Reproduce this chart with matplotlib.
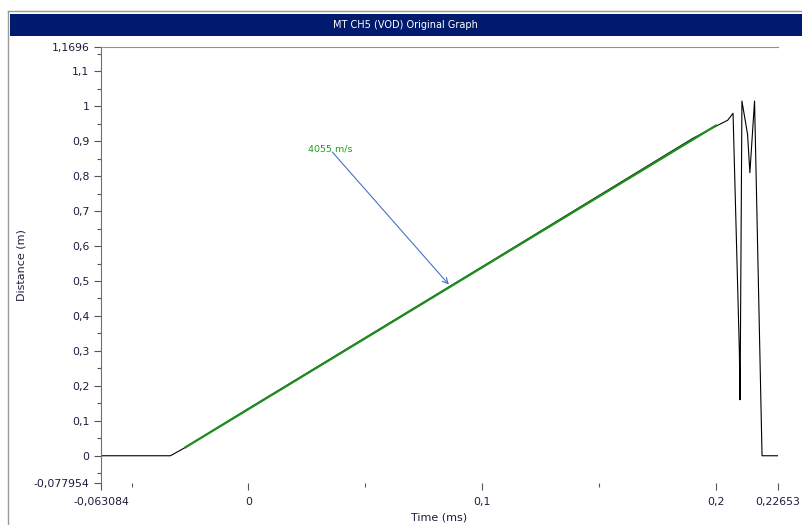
import matplotlib.pyplot as plt
from matplotlib.ticker import FixedLocator, NullFormatter
from matplotlib.patches import Rectangle
from matplotlib.lines import Line2D

# Signal (time in ms, distance in m)
time_ms = [-0.063084, -0.0334, -0.028, 0.0, 0.05, 0.1, 0.15, 0.19, 0.2, 0.205,
           0.2073, 0.2100, 0.2103, 0.2111, 0.2135, 0.2145, 0.2165, 0.2197, 0.22653]
dist_m = [0.0, 0.0, 0.02, 0.135, 0.338, 0.541, 0.745, 0.908, 0.943, 0.960,
          0.980, 0.30, 0.16, 1.015, 0.92, 0.81, 1.015, 0.0, 0.0]

# Linear fit (VOD)
fit_t = [-0.027, 0.2]
fit_d = [0.024, 0.945]
vod_label = "4055 m/s"
arrow_tail = (0.0351, 0.875)
arrow_head = (0.0865, 0.484)

x_min, x_max = -0.063084, 0.22653
y_min, y_max = -0.077954, 1.1696
x_major = [-0.063084, 0.0, 0.1, 0.2, 0.22653]
x_major_labels = ["-0,063084", "0", "0,1", "0,2", "0,22653"]
x_minor = [-0.05, 0.05, 0.15]
y_major = [-0.077954, 0.0, 0.1, 0.2, 0.3, 0.4, 0.5, 0.6, 0.7, 0.8, 0.9, 1.0, 1.1, 1.1696]
y_major_labels = ["-0,077954", "0", "0,1", "0,2", "0,3", "0,4", "0,5", "0,6", "0,7",
                  "0,8", "0,9", "1", "1,1", "1,1696"]
y_minor = [-0.05, 0.05, 0.15, 0.25, 0.35, 0.45, 0.55, 0.65, 0.75, 0.85, 0.95, 1.05, 1.15]

txt_col = "#1c1c3c"
fig = plt.figure(figsize=(8.03, 5.25), dpi=100)

# outer frame and title bar
fig.add_artist(Line2D([8 / 803, 8 / 803], [0, 1 - 11 / 525], color="#9a9a9a", lw=1))
fig.add_artist(Line2D([8 / 803, 1], [1 - 11 / 525, 1 - 11 / 525], color="#9a9a9a", lw=1))
fig.add_artist(Rectangle((10 / 803, 1 - 36 / 525), 1, 22 / 525, facecolor="#001a6e",
                         edgecolor="none", transform=fig.transFigure))
fig.text(0.505, 1 - 25 / 525, "MT CH5 (VOD) Original Graph", color="white",
         fontsize=7, ha="center", va="center")

ax = fig.add_axes([101 / 803, 42 / 525, 677 / 803, 436 / 525])
ax.plot(time_ms, dist_m, color="black", lw=0.8)
ax.plot(fit_t, fit_d, color="#1e8c1e", lw=1.6)
ax.annotate("", xy=arrow_head, xytext=arrow_tail,
            arrowprops=dict(arrowstyle="->", color="#4a72c4", lw=0.8))
ax.text(0.0253, 0.877, vod_label, color="#1ea01e", fontsize=6.8, va="center", ha="left")

ax.set_xlim(x_min, x_max)
ax.set_ylim(y_min, y_max)
ax.xaxis.set_major_locator(FixedLocator(x_major))
ax.set_xticklabels(x_major_labels)
ax.xaxis.set_minor_locator(FixedLocator(x_minor))
ax.yaxis.set_major_locator(FixedLocator(y_major))
ax.set_yticklabels(y_major_labels)
ax.yaxis.set_minor_locator(FixedLocator(y_minor))
ax.xaxis.set_minor_formatter(NullFormatter())
ax.yaxis.set_minor_formatter(NullFormatter())
ax.tick_params(axis="both", which="major", labelsize=7.8, colors="#555555",
               labelcolor=txt_col, length=5, width=0.8)
ax.tick_params(axis="both", which="minor", colors="#555555", length=3, width=0.8)
ax.tick_params(axis="x", pad=5)

ax.spines["right"].set_visible(False)
ax.spines["bottom"].set_visible(False)
ax.spines["left"].set_color("#707070")
ax.spines["top"].set_color("#909090")

ax.set_xlabel("Time (ms)", fontsize=8, color=txt_col, labelpad=4)
ax.set_ylabel("Distance (m)", fontsize=8, color=txt_col, labelpad=5)

fig.savefig("out.png", dpi=100)
